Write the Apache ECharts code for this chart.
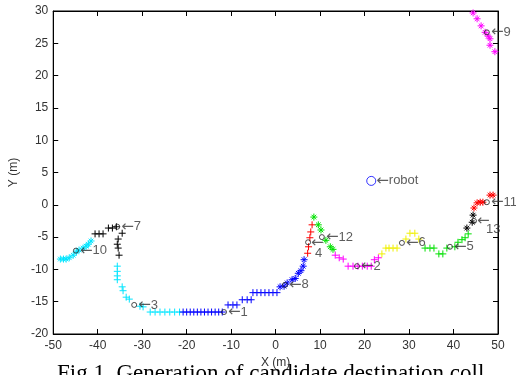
<!DOCTYPE html>
<html>
<head>
<meta charset="utf-8">
<script src="https://cdn.jsdelivr.net/npm/echarts@6/dist/echarts.min.js"></script>
<style>
  html, body { margin: 0; padding: 0; background: #fff; }
  #chart { width: 516px; height: 375px; }
</style>
</head>
<body>
<div id="chart"></div>
<script>
// candidate path segments, in metres
const cyanStar = [[-48.4,-8.4],[-47.7,-8.4],[-47.1,-8.4],[-46.4,-8.2],[-45.5,-7.8],[-44.8,-7.3],[-44.2,-7.0],[-43.3,-6.7],[-42.6,-6.4],[-42.1,-6.1],[-41.5,-5.6]];
const blackPlus = [[-40.6,-4.5],[-39.7,-4.5],[-38.8,-4.5],[-37.6,-3.6],[-36.7,-3.6],[-35.8,-3.4],[-34.5,-4.4],[-35.4,-5.3],[-35.6,-6.1],[-35.4,-6.7],[-35.2,-7.8]];
const cyanPlus = [[-35.6,-9.5],[-35.6,-10.3],[-35.6,-11.0],[-35.6,-11.6],[-34.5,-12.7],[-34.3,-13.3],[-33.6,-14.3],[-32.9,-14.6],[-30.5,-15.7],[-29.8,-15.8],[-28.2,-16.6],[-27.1,-16.6],[-26.0,-16.6],[-24.9,-16.6],[-23.8,-16.6],[-22.7,-16.6],[-21.6,-16.6]];
const bluePlus = [[-20.8,-16.6],[-20.0,-16.6],[-19.2,-16.6],[-18.4,-16.6],[-17.6,-16.6],[-16.8,-16.6],[-16.0,-16.6],[-15.2,-16.6],[-14.4,-16.6],[-13.6,-16.6],[-12.8,-16.6],[-12.0,-16.6],[-10.7,-15.5],[-9.6,-15.5],[-8.7,-15.5],[-7.5,-14.7],[-6.4,-14.7],[-5.5,-14.7],[-5.1,-13.6],[-4.2,-13.6],[-3.3,-13.6],[-2.4,-13.6],[-1.5,-13.6],[-0.6,-13.6],[0.3,-13.6]];
const blueStar = [[1.0,-12.7],[1.9,-12.6],[2.6,-12.1],[3.7,-11.6],[4.4,-11.4],[5.1,-10.6],[5.7,-10.2],[6.2,-9.5],[6.4,-8.5]];
const redPlus = [[8.2,-3.1],[7.9,-4.2],[7.7,-5.1],[7.4,-6.5],[7.2,-7.5]];
const greenStar = [[8.6,-1.9],[9.6,-3.1],[10.2,-3.9],[11.3,-5.5],[12.3,-6.5],[12.9,-6.9]];
const magentaPlus = [[13.4,-7.8],[14.3,-8.2],[15.2,-8.4],[16.3,-9.5],[17.4,-9.5],[18.5,-9.5],[19.5,-9.5],[20.6,-9.5],[21.5,-9.5],[22.2,-8.5],[23.1,-8.2]];
const yellowPlus = [[23.9,-7.6],[24.8,-6.7],[25.5,-6.7],[26.4,-6.7],[27.3,-6.7],[29.3,-5.3],[30.2,-4.4],[31.3,-4.4],[32.2,-5.3]];
const greenPlus = [[33.6,-6.7],[34.7,-6.7],[35.6,-6.7],[36.7,-7.6],[37.6,-7.6],[38.5,-6.7],[40.3,-6.5],[41.0,-5.8],[41.9,-5.4],[42.6,-5.1],[43.3,-4.5]];
const blackStar = [[43.0,-3.6],[44.2,-2.7],[44.4,-1.6]];
const redStar = [[44.6,-0.5],[45.3,0.3],[46.0,0.4],[46.6,0.4],[48.2,1.5],[48.9,1.5]];
const magentaStar = [[44.4,29.7],[45.3,28.8],[46.2,27.7],[47.1,26.7],[47.8,26.1],[48.2,25.7],[48.2,24.7],[49.3,23.7]];

// numbered destinations
const tagNames = ['1','2','3','4','5','6','7','8','9','10','11','12','13'];
const tagPoints = [[-11.6,-16.6],[18.3,-9.5],[-31.8,-15.5],[7.3,-5.8],[39.2,-6.5],[28.4,-5.9],[-35.6,-3.4],[2.1,-12.4],[47.5,26.7],[-44.9,-7.1],[47.5,0.4],[10.4,-5.0],[44.6,-2.5]];
const robot = [[21.5,3.7]];

const xTicks = { min: -50, max: 50, interval: 10 };
const yTicks = { min: -20, max: 30, interval: 5 };

const PLUS = 'path://M5,0L5,10M0,5L10,5';
const STAR = 'path://M5,0L5,10M0,5L10,5M1.7,1.7L8.3,8.3M8.3,1.7L1.7,8.3';
const sans = 'Liberation Sans, Arial, sans-serif';
const labelFont = { color: '#333', fontSize: 13, fontFamily: sans };
const arrowFont = { color: '#333', fontSize: 15, fontFamily: 'DejaVu Sans' };

function marks(data, symbol, color) {
  return {
    type: 'scatter',
    data,
    symbol,
    symbolSize: 7,
    silent: true,
    itemStyle: { color: 'rgba(0,0,0,0)', borderColor: color, borderWidth: 1, opacity: 1 },
  };
}

// 4 and 13 have the number dropped below the arrow
const dropped = {
  '4': { offset: [-1, 6], pad: 4, lh: 11 },
  '13': { offset: [-1, 4], pad: 9, lh: 8 },
};

const tagData = tagPoints.map((p, i) => {
  const n = tagNames[i];
  const d = { value: p, name: n };
  if (dropped[n]) {
    d.label = {
      formatter: '{a|←}\n{b|' + n + '}',
      offset: dropped[n].offset,
      rich: {
        a: { ...arrowFont, lineHeight: dropped[n].lh },
        b: { ...labelFont, lineHeight: dropped[n].lh, padding: [0, 0, 0, dropped[n].pad] },
      },
    };
  }
  return d;
});

const tagLabel = {
  show: true,
  position: 'right',
  distance: 1,
  formatter: (p) => '{a|←}{b|' + p.name + '}',
  rich: { a: { ...arrowFont }, b: { ...labelFont } },
};

const axisLine = { show: true, onZero: false, lineStyle: { color: '#000', width: 1 } };
const axisTick = { show: true, inside: true, length: 5, lineStyle: { color: '#000' } };
const axisLabel = { color: '#333', fontSize: 12, fontFamily: sans };

const chart = echarts.init(document.getElementById('chart'), null, { renderer: 'canvas' });
chart.setOption({
  animation: false,
  backgroundColor: '#fff',
  grid: { left: 53, right: 18, top: 11, bottom: 41, show: true, borderColor: '#000', borderWidth: 1 },
  xAxis: [
    { type: 'value', ...xTicks, position: 'bottom', axisLine, axisTick, splitLine: { show: false },
      axisLabel: { ...axisLabel, margin: 6 },
      name: 'X (m)', nameLocation: 'middle', nameGap: 15, nameTextStyle: axisLabel },
    { type: 'value', ...xTicks, position: 'top', axisLine, axisTick, splitLine: { show: false },
      axisLabel: { show: false } },
  ],
  yAxis: [
    { type: 'value', ...yTicks, position: 'left', axisLine, axisTick, splitLine: { show: false },
      axisLabel: { ...axisLabel, margin: 5 },
      name: 'Y (m)', nameLocation: 'middle', nameGap: 22, nameTextStyle: axisLabel },
    { type: 'value', ...yTicks, position: 'right', axisLine, axisTick, splitLine: { show: false },
      axisLabel: { show: false } },
  ],
  series: [
    marks(cyanStar, STAR, '#00e5ff'),
    marks(blackPlus, PLUS, '#000'),
    marks(cyanPlus, PLUS, '#00e5ff'),
    marks(bluePlus, PLUS, '#0000ff'),
    marks(blueStar, STAR, '#0000ff'),
    marks(redPlus, PLUS, '#ff0000'),
    marks(greenStar, STAR, '#00e000'),
    marks(magentaPlus, PLUS, '#ff00ff'),
    marks(yellowPlus, PLUS, '#f0f000'),
    marks(greenPlus, PLUS, '#00e000'),
    marks(blackStar, STAR, '#000'),
    marks(redStar, STAR, '#ff0000'),
    marks(magentaStar, STAR, '#ff00ff'),
    {
      type: 'scatter',
      data: tagData,
      symbol: 'circle',
      symbolSize: 5,
      silent: true,
      itemStyle: { color: 'rgba(0,0,0,0)', borderColor: '#222', borderWidth: 1 },
      label: tagLabel,
    },
    {
      type: 'scatter',
      data: robot,
      symbol: 'circle',
      symbolSize: 9,
      silent: true,
      itemStyle: { color: 'rgba(0,0,0,0)', borderColor: '#0000ff', borderWidth: 1 },
      label: { ...tagLabel, distance: 0, formatter: '{a|←}{b|robot}' },
    },
  ],
  graphic: [
    { type: 'text', left: 57, top: 362,
      style: { text: 'Fig.1. Generation of candidate destination coll', font: '23px "Liberation Serif", "Times New Roman", serif', fill: '#000' } },
  ],
});
</script>
</body>
</html>
